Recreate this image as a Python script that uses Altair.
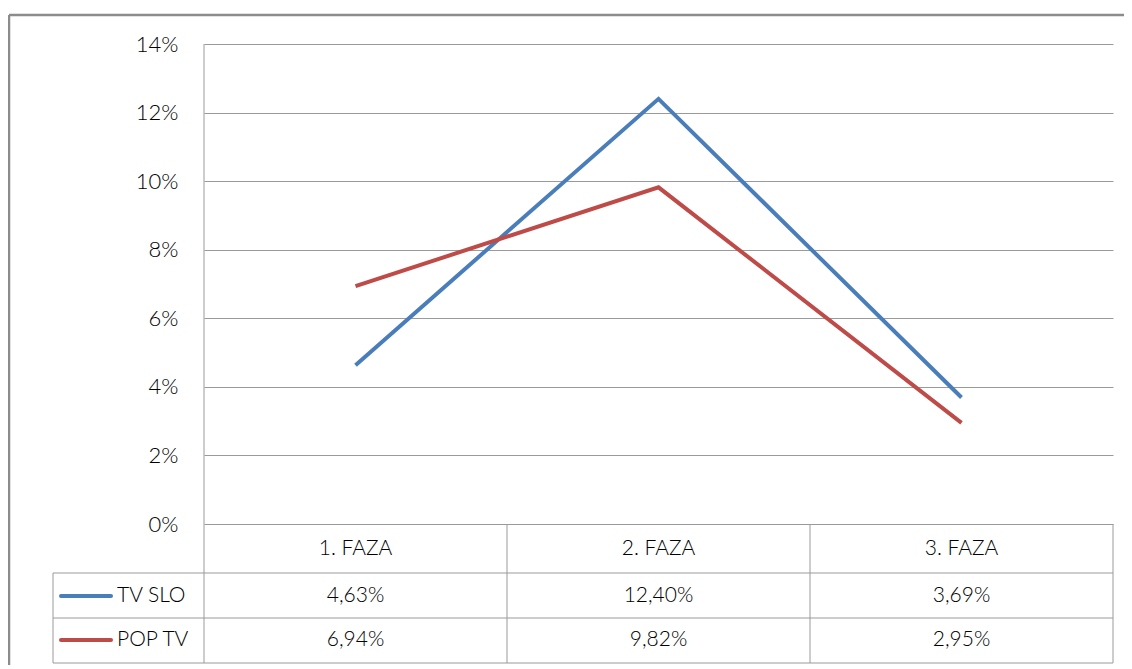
import altair as alt
import pandas as pd

categories = ["1. FAZA", "2. FAZA", "3. FAZA"]
series_names = ["TV SLO", "POP TV"]
tv_slo = [4.63, 12.40, 3.69]
pop_tv = [6.94, 9.82, 2.95]
y_ticks = [0, 2, 4, 6, 8, 10, 12, 14]
colors = ["#4A7EBB", "#BE4B48"]

W, H = 909, 480
FONT = "Lato"
FW = 300
TXT = "#000000"
GRID = "#9a9a9a"

rows = []
for s, vals in zip(series_names, [tv_slo, pop_tv]):
    for c, v in zip(categories, vals):
        rows.append({"faza": c, "series": s, "value": v,
                     "label": f"{v:.2f}".replace(".", ",") + "%"})
df = pd.DataFrame(rows)
cat_df = pd.DataFrame({"faza": categories})
ser_df = pd.DataFrame({"series": series_names})
one = pd.DataFrame({"k": [0]})

xscale = alt.Scale(type="point", domain=categories, padding=0.5)
yscale = alt.Scale(domain=[0, 14], nice=False)
cscale = alt.Scale(domain=series_names, range=colors)

X = alt.X("faza:N", scale=xscale, axis=None)

lines = alt.Chart(df).mark_line(strokeWidth=4).encode(
    x=X,
    y=alt.Y("value:Q", scale=yscale, axis=alt.Axis(
        values=y_ticks, labelExpr="datum.value + '%'", grid=True, gridColor=GRID,
        gridWidth=1, domain=False, ticks=False, labelPadding=26, labelFontSize=22,
        labelFont=FONT, labelFontWeight=FW, labelColor=TXT, title=None)),
    color=alt.Color("series:N", scale=cscale, legend=None),
    detail="series:N",
)

def rule(x, x2, y, y2=None, color=GRID, width=1):
    enc = dict(x=alt.value(x), x2=alt.value(x2), y=alt.value(y))
    if y2 is not None:
        enc["y2"] = alt.value(y2)
    return alt.Chart(one).mark_rule(color=color, strokeWidth=width).encode(**enc)

step = W / len(categories)
r1, r2, r3 = H + 49, H + 94, H + 139
decor = [
    rule(0, 0, 0, r3),
    rule(-151, -151, r1, r3),
    rule(step, step, H, r3),
    rule(2 * step, 2 * step, H, r3),
    rule(W, W, H, r3),
    rule(-151, W, r1),
    rule(-151, W, r2),
    rule(-151, W, r3),
    rule(-195, 1200, -29, color="#8c8c8c", width=2.5),
    rule(-195, -195, -29, 700, color="#8c8c8c", width=2.5),
]

header = alt.Chart(cat_df).mark_text(fontSize=21, font=FONT, fontWeight=FW, color=TXT).encode(
    x=X, y=alt.value(H + 25), text="faza:N")

row_y = {"TV SLO": H + 72, "POP TV": H + 116}
table = []
for s in series_names:
    table.append(alt.Chart(df).transform_filter(alt.datum.series == s)
                 .mark_text(fontSize=21, font=FONT, fontWeight=FW, color=TXT)
                 .encode(x=X, y=alt.value(row_y[s]), text="label:N"))
    sub = ser_df[ser_df.series == s]
    table.append(alt.Chart(sub).mark_rule(strokeWidth=4, strokeCap="round").encode(
        x=alt.value(-143), x2=alt.value(-93), y=alt.value(row_y[s]),
        color=alt.Color("series:N", scale=cscale, legend=None)))
    table.append(alt.Chart(sub).mark_text(fontSize=21, font=FONT, fontWeight=FW, color=TXT, align="left").encode(
        x=alt.value(-87), y=alt.value(row_y[s]), text="series:N"))

chart = alt.layer(*decor, lines, header, *table).properties(
    width=W, height=H,
    autosize=alt.AutoSizeParams(type="none"),
    padding={"left": 196, "top": 36, "right": 11, "bottom": 141},
).configure_view(stroke=None)

chart.save("out.html", embed_options={"renderer": "svg", "actions": False})
